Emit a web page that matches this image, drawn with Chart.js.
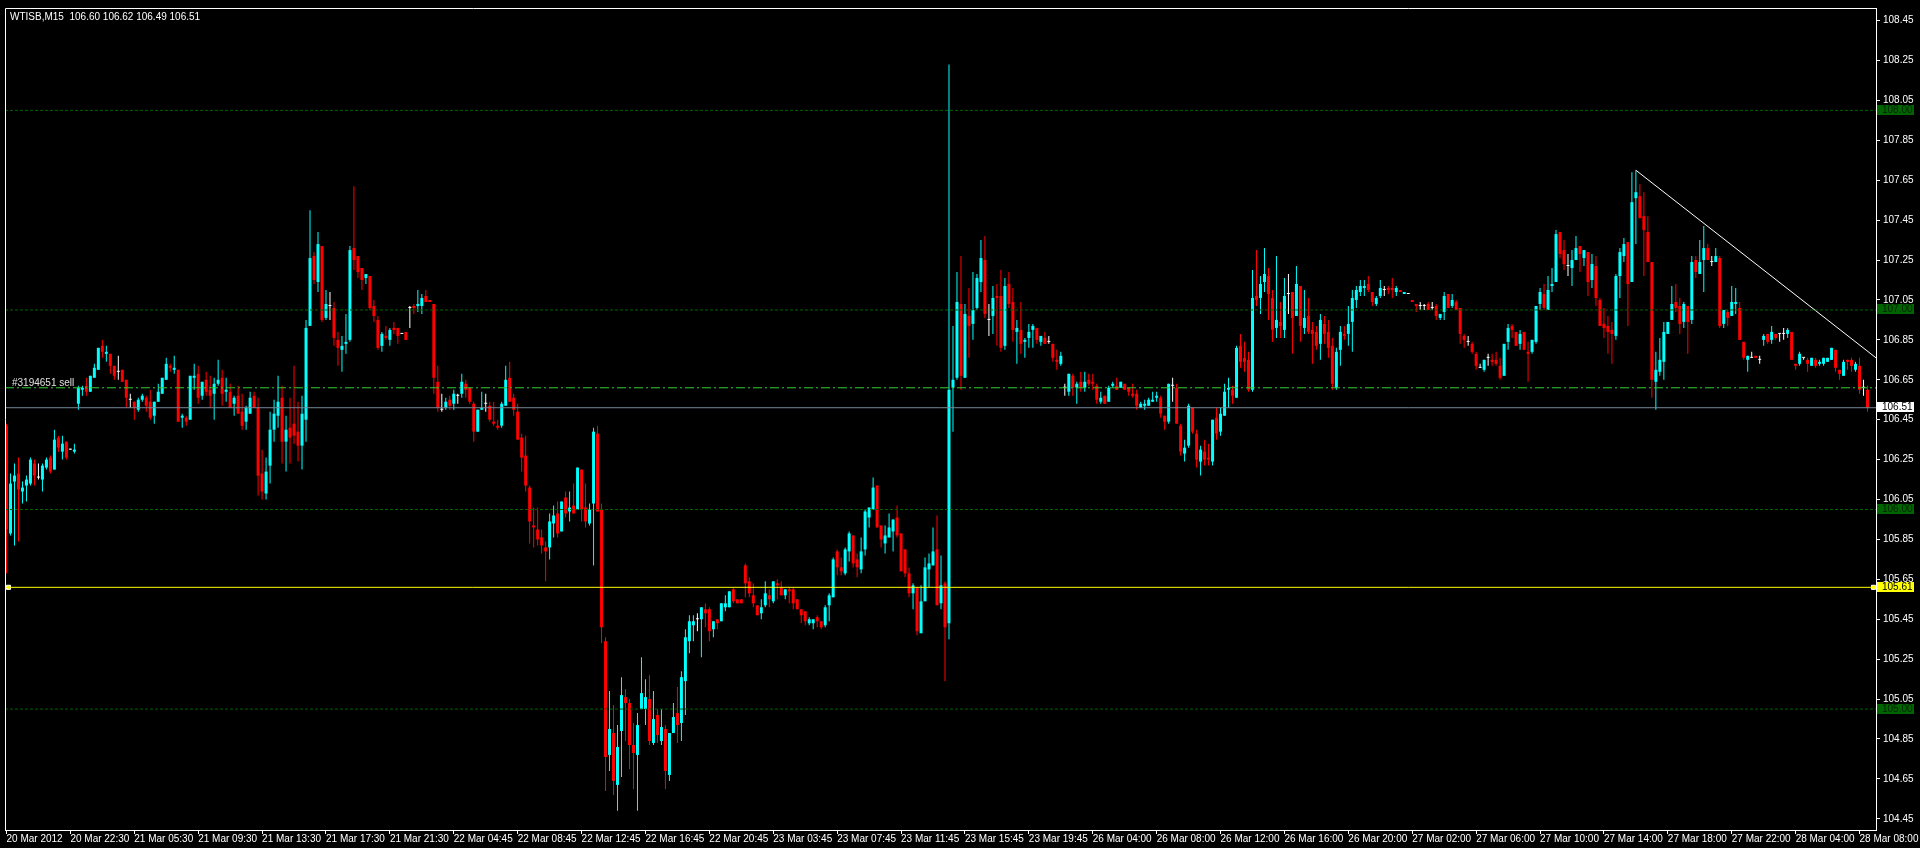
<!DOCTYPE html>
<html><head><meta charset="utf-8">
<script src="https://cdn.jsdelivr.net/npm/chart.js@4"></script>
<style>html,body{margin:0;padding:0;background:#000;overflow:hidden}canvas{display:block}</style>
</head><body>
<canvas id="c" width="1920" height="848"></canvas>
<script>
const SYMBOL = 'WTISB,M15';
const OPEN = [
106.42,105.88,106.14,106.18,106.09,106.12,106.13,106.23,106.16,106.15,
106.21,106.26,106.20,106.36,106.29,106.34,106.30,106.29,106.53,106.60,
106.62,106.59,106.66,106.70,106.82,106.78,106.78,106.72,106.69,106.70,
106.65,106.55,106.54,106.50,106.55,106.56,106.54,106.47,106.54,106.58,
106.65,106.72,106.70,106.70,106.46,106.46,106.45,106.66,106.68,106.57,
106.65,106.60,106.58,106.63,106.66,106.59,106.59,106.53,106.57,106.49,
106.44,106.48,106.57,106.51,106.18,106.08,106.22,106.40,106.47,106.56,
106.34,106.41,106.43,106.39,106.32,106.45,106.92,107.27,107.14,107.32,
106.96,107.02,107.01,106.85,106.80,106.83,106.85,107.31,107.27,107.21,
107.16,107.17,107.02,106.95,106.82,106.87,106.85,106.91,106.91,106.88,
106.89,107.01,107.02,107.02,107.02,107.07,107.05,107.03,106.64,106.50,
106.51,106.55,106.53,106.57,106.58,106.63,106.61,106.53,106.39,106.50,
106.53,106.52,106.44,106.42,106.42,106.52,106.66,106.56,106.49,106.36,
106.27,106.11,105.92,105.90,105.86,105.81,105.81,105.93,105.98,105.89,
106.06,105.99,106.02,106.00,106.20,106.01,105.93,106.03,106.38,106.00,
105.34,104.77,104.88,104.62,104.89,105.06,105.03,104.82,104.77,105.00,
105.00,105.05,104.83,104.97,104.84,104.90,104.67,104.88,104.98,104.93,
105.14,105.34,105.42,105.45,105.45,105.50,105.50,105.40,105.45,105.44,
105.51,105.51,105.60,105.55,105.55,105.72,105.64,105.57,105.52,105.48,
105.52,105.57,105.54,105.63,105.61,105.57,105.60,105.60,105.55,105.50,
105.49,105.43,105.43,105.46,105.44,105.42,105.52,105.56,105.79,105.71,
105.68,105.79,105.87,105.75,105.70,105.80,105.96,106.00,106.12,105.92,
105.83,105.86,105.89,105.96,105.88,105.80,105.68,105.58,105.61,105.38,
105.54,105.70,105.72,105.80,105.53,105.63,105.43,106.61,106.66,107.03,
106.66,106.97,106.93,107.01,107.14,107.25,106.95,106.97,107.07,107.07,
106.82,107.13,107.04,106.89,106.90,106.84,106.86,106.90,106.91,106.84,
106.86,106.84,106.83,106.75,106.73,106.61,106.59,106.67,106.61,106.64,
106.61,106.65,106.64,106.62,106.54,106.57,106.54,106.62,106.62,106.61,
106.63,106.61,106.58,106.58,106.51,106.52,106.52,106.54,106.56,106.56,
106.47,106.44,106.62,106.61,106.42,106.28,106.32,106.51,106.38,106.24,
106.29,106.26,106.24,106.46,106.39,106.47,106.60,106.60,106.56,106.82,
106.76,106.75,106.60,107.07,107.06,107.14,107.17,107.06,106.91,106.94,
106.90,107.08,107.09,106.97,107.12,106.91,106.97,106.90,106.89,106.83,
106.93,106.89,106.82,106.61,106.80,106.88,106.88,106.94,107.05,107.09,
107.11,107.13,107.09,107.03,107.07,107.10,107.11,107.11,107.09,107.10,
107.08,107.08,107.05,107.03,107.02,107.02,107.03,107.01,107.02,106.96,
106.99,107.08,107.02,107.04,107.01,106.87,106.84,106.83,106.78,106.71,
106.70,106.76,106.75,106.75,106.72,106.67,106.84,106.92,106.89,106.83,
106.89,106.79,106.79,106.84,107.03,107.08,107.00,107.12,107.14,107.39,
107.30,107.22,107.21,107.25,107.32,107.26,107.29,107.15,107.22,107.05,
106.93,106.92,106.90,106.87,107.17,107.27,107.34,107.14,107.56,107.57,
107.47,107.39,107.24,106.64,106.69,106.74,106.88,106.95,107.04,107.02,
106.94,107.02,106.95,107.25,107.18,107.25,107.31,107.24,107.24,107.26,
106.93,106.99,106.97,107.03,107.01,106.84,106.75,106.76,106.77,106.75,
106.85,106.88,106.85,106.88,106.88,106.88,106.88,106.89,106.73,106.73,
106.76,106.75,106.72,106.75,106.73,106.73,106.74,106.75,106.80,106.70,
106.67,106.75,106.75,106.70,106.72,106.61,106.60];
const HIGH = [
106.43,106.18,106.23,106.26,106.14,106.17,106.26,106.25,106.23,106.23,
106.26,106.27,106.40,106.37,106.37,106.34,106.30,106.33,106.62,106.62,
106.66,106.67,106.73,106.81,106.85,106.82,106.78,106.72,106.77,106.70,
106.65,106.58,106.54,106.56,106.58,106.57,106.60,106.54,106.63,106.66,
106.76,106.73,106.77,106.70,106.48,106.47,106.67,106.73,106.72,106.64,
106.69,106.67,106.66,106.75,106.70,106.66,106.63,106.57,106.62,106.58,
106.52,106.59,106.59,106.56,106.30,106.26,106.49,106.55,106.67,106.62,
106.47,106.56,106.72,106.54,106.57,106.95,107.50,107.29,107.39,107.32,
107.10,107.09,107.04,106.89,106.87,106.98,107.32,107.62,107.27,107.21,
107.18,107.17,107.05,106.97,106.89,106.92,106.91,106.94,106.91,106.88,
106.89,107.02,107.03,107.10,107.08,107.10,107.05,107.03,106.72,106.58,
106.56,106.57,106.60,106.58,106.68,106.65,106.61,106.54,106.50,106.59,
106.58,106.54,106.54,106.45,106.54,106.72,106.74,106.58,106.53,106.38,
106.37,106.12,106.01,106.01,105.90,105.84,105.98,106.02,106.04,106.04,
106.09,106.09,106.13,106.21,106.20,106.13,106.03,106.41,106.42,106.03,
105.36,105.09,105.02,104.92,105.16,105.10,105.05,104.93,104.98,105.26,
105.15,105.17,105.09,105.00,105.00,104.92,104.88,105.03,105.11,105.19,
105.40,105.47,105.47,105.48,105.51,105.53,105.51,105.44,105.45,105.53,
105.57,105.59,105.61,105.55,105.55,105.73,105.66,105.63,105.52,105.55,
105.64,105.60,105.64,105.65,105.64,105.60,105.61,105.61,105.55,105.50,
105.49,105.46,105.45,105.47,105.44,105.52,105.58,105.76,105.80,105.76,
105.81,105.89,105.87,105.78,105.86,106.00,106.01,106.16,106.12,105.92,
105.92,105.98,105.95,106.02,105.88,105.80,105.71,105.63,105.61,105.62,
105.76,105.78,105.91,105.97,105.77,105.64,108.23,106.92,107.19,107.27,
107.03,107.11,107.19,107.18,107.35,107.37,107.03,107.12,107.13,107.20,
107.16,107.19,107.11,106.95,107.04,106.86,106.93,106.93,106.91,106.87,
106.89,106.87,106.83,106.80,106.79,106.63,106.68,106.68,106.64,106.69,
106.69,106.68,106.68,106.63,106.59,106.57,106.62,106.64,106.66,106.64,
106.63,106.61,106.63,106.60,106.54,106.55,106.56,106.59,106.59,106.57,
106.47,106.63,106.66,106.63,106.43,106.35,106.53,106.51,106.40,106.32,
106.35,106.33,106.45,106.51,106.51,106.63,106.66,106.62,106.82,106.88,
106.84,106.79,107.20,107.30,107.17,107.31,107.21,107.10,107.27,107.04,
107.16,107.18,107.09,107.22,107.12,107.10,107.06,106.94,106.92,106.98,
106.97,106.95,106.86,106.81,106.92,106.92,107.02,107.10,107.12,107.15,
107.15,107.17,107.09,107.07,107.15,107.12,107.12,107.16,107.12,107.10,
107.09,107.08,107.05,107.03,107.04,107.03,107.04,107.04,107.03,106.98,
107.09,107.08,107.08,107.05,107.01,106.88,106.87,106.84,106.79,106.73,
106.75,106.78,106.78,106.79,106.76,106.83,106.93,106.93,106.89,106.90,
106.89,106.84,106.85,107.02,107.11,107.13,107.17,107.21,107.40,107.39,
107.35,107.28,107.30,107.37,107.32,107.30,107.29,107.28,107.27,107.06,
107.01,106.97,106.94,107.18,107.31,107.36,107.34,107.69,107.70,107.63,
107.59,107.47,107.24,106.79,106.86,106.94,106.94,107.12,107.13,107.06,
107.04,107.02,107.27,107.27,107.35,107.42,107.33,107.27,107.31,107.27,
107.00,107.00,107.12,107.11,107.04,106.84,106.77,106.79,106.77,106.77,
106.88,106.88,106.92,106.88,106.88,106.91,106.91,106.89,106.73,106.79,
106.76,106.76,106.76,106.76,106.75,106.76,106.76,106.81,106.80,106.70,
106.75,106.75,106.76,106.74,106.76,106.65,106.62];
const LOW = [
105.68,105.87,105.82,105.84,106.03,106.04,106.12,106.12,106.15,106.09,
106.20,106.18,106.20,106.29,106.25,106.25,106.30,106.28,106.50,106.57,
106.57,106.59,106.66,106.70,106.76,106.74,106.68,106.65,106.65,106.64,
106.51,106.51,106.45,106.49,106.54,106.49,106.45,106.43,106.54,106.58,
106.65,106.69,106.68,106.44,106.41,106.42,106.45,106.60,106.53,106.55,
106.57,106.51,106.45,106.62,106.52,106.54,106.51,106.47,106.48,106.40,
106.40,106.48,106.51,106.07,106.05,106.05,106.13,106.34,106.41,106.23,
106.19,106.23,106.33,106.24,106.20,106.34,106.92,107.13,107.09,106.94,
106.95,106.95,106.82,106.72,106.69,106.78,106.84,107.20,107.16,107.10,
107.13,107.00,106.94,106.80,106.79,106.85,106.82,106.88,106.83,106.88,
106.85,106.91,106.98,106.99,106.98,107.04,107.04,106.58,106.49,106.49,
106.50,106.50,106.50,106.53,106.56,106.56,106.53,106.34,106.39,106.50,
106.49,106.44,106.42,106.40,106.41,106.52,106.54,106.47,106.35,106.19,
106.09,105.83,105.81,105.82,105.78,105.64,105.75,105.86,105.86,105.89,
105.96,105.94,105.98,106.00,105.94,105.91,105.92,105.72,105.99,105.33,
104.59,104.69,104.57,104.49,104.66,104.84,104.70,104.60,104.49,105.00,
104.92,104.82,104.82,104.83,104.82,104.60,104.64,104.88,104.83,104.84,
104.97,105.28,105.34,105.39,105.26,105.41,105.34,105.36,105.40,105.44,
105.49,105.51,105.53,105.53,105.53,105.56,105.56,105.51,105.47,105.45,
105.51,105.51,105.53,105.55,105.57,105.55,105.53,105.50,105.50,105.43,
105.42,105.42,105.40,105.41,105.40,105.41,105.44,105.56,105.67,105.67,
105.67,105.74,105.71,105.66,105.68,105.77,105.91,106.00,105.91,105.81,
105.78,105.86,105.79,105.86,105.69,105.66,105.56,105.50,105.37,105.38,
105.54,105.61,105.72,105.52,105.50,105.14,105.35,106.39,106.65,106.60,
106.66,106.76,106.85,107.00,107.09,106.96,106.87,106.88,106.82,106.79,
106.80,107.01,106.84,106.73,106.78,106.76,106.81,106.81,106.83,106.82,
106.83,106.83,106.74,106.70,106.72,106.57,106.57,106.57,106.53,106.59,
106.59,106.62,106.60,106.53,106.53,106.53,106.54,106.61,106.60,106.61,
106.60,106.57,106.56,106.50,106.51,106.50,106.52,106.54,106.54,106.46,
106.40,106.43,106.54,106.43,106.27,106.24,106.31,106.38,106.21,106.17,
106.22,106.22,106.22,106.35,106.37,106.47,106.51,106.53,106.56,106.71,
106.69,106.59,106.59,107.02,106.98,107.09,106.95,106.84,106.86,106.86,
106.86,106.98,106.78,106.97,106.84,106.88,106.88,106.73,106.80,106.75,
106.83,106.76,106.60,106.60,106.72,106.85,106.82,106.79,107.01,107.07,
107.07,107.09,107.02,107.02,107.06,107.07,107.08,107.06,107.07,107.09,
107.08,107.08,107.04,106.99,107.00,107.00,107.00,107.00,106.95,106.95,
106.95,107.01,107.01,107.00,106.83,106.81,106.82,106.78,106.70,106.71,
106.69,106.72,106.72,106.72,106.65,106.67,106.80,106.86,106.82,106.80,
106.80,106.64,106.78,106.83,107.00,107.00,107.00,107.09,107.14,107.26,
107.20,107.17,107.12,107.25,107.19,107.22,107.07,107.11,107.02,106.92,
106.86,106.78,106.73,106.85,107.06,107.24,106.92,107.14,107.33,107.46,
107.17,107.24,106.56,106.50,106.67,106.65,106.88,106.95,106.99,106.88,
106.91,106.78,106.93,107.16,107.18,107.09,107.25,107.22,107.24,106.91,
106.91,106.92,106.97,106.98,106.85,106.75,106.69,106.76,106.76,106.73,
106.82,106.83,106.83,106.85,106.84,106.85,106.86,106.75,106.70,106.72,
106.75,106.69,106.72,106.71,106.72,106.72,106.74,106.75,106.69,106.65,
106.67,106.70,106.69,106.69,106.58,106.57,106.49];
const CLOSE = [
105.90,106.13,106.17,106.10,106.11,106.15,106.25,106.17,106.16,106.22,
106.25,106.19,106.35,106.31,106.33,106.26,106.30,106.30,106.61,106.61,
106.59,106.67,106.71,106.81,106.79,106.79,106.72,106.67,106.69,106.64,
106.56,106.55,106.51,106.55,106.57,106.52,106.46,106.54,106.59,106.66,
106.73,106.71,106.71,106.44,106.47,106.44,106.67,106.67,106.56,106.64,
106.59,106.57,106.63,106.65,106.58,106.60,106.51,106.56,106.48,106.42,
106.51,106.56,106.51,106.17,106.09,106.19,106.40,106.48,106.54,106.34,
106.40,106.36,106.37,106.32,106.48,106.91,107.26,107.15,107.33,106.95,
107.03,107.02,106.86,106.81,106.82,106.84,107.30,107.25,107.19,107.15,
107.18,107.01,106.97,106.81,106.88,106.86,106.90,106.90,106.87,106.88,
106.85,107.01,107.01,107.03,107.06,107.04,107.04,106.66,106.51,106.50,
106.54,106.52,106.58,106.57,106.64,106.60,106.54,106.39,106.50,106.51,
106.53,106.45,106.43,106.41,106.53,106.65,106.54,106.50,106.35,106.26,
106.12,105.94,105.91,105.85,105.82,105.79,105.94,105.97,105.88,106.04,
105.98,106.01,105.98,106.21,106.00,105.94,106.00,106.39,105.99,105.41,
104.76,104.90,104.64,104.81,105.07,105.03,104.82,104.78,104.92,105.08,
105.06,104.84,104.95,104.87,104.91,104.69,104.88,104.96,104.92,105.16,
105.36,105.44,105.44,105.45,105.51,105.48,105.39,105.44,105.43,105.53,
105.53,105.59,105.54,105.53,105.53,105.63,105.58,105.53,105.47,105.51,
105.58,105.55,105.64,105.62,105.57,105.60,105.59,105.53,105.50,105.47,
105.44,105.45,105.45,105.44,105.41,105.51,105.57,105.75,105.71,105.69,
105.80,105.88,105.73,105.71,105.79,105.99,106.01,106.11,105.91,105.85,
105.87,105.91,105.95,105.87,105.69,105.68,105.58,105.62,105.39,105.54,
105.71,105.73,105.79,105.52,105.62,105.41,106.60,106.65,107.04,106.67,
106.98,106.92,107.00,107.16,107.26,106.98,106.95,107.06,107.06,106.81,
107.12,107.03,106.90,106.91,106.83,106.85,106.89,106.92,106.85,106.87,
106.83,106.84,106.76,106.74,106.77,106.61,106.68,106.61,106.63,106.61,
106.64,106.63,106.63,106.55,106.56,106.53,106.61,106.63,106.60,106.64,
106.60,106.59,106.57,106.52,106.53,106.53,106.55,106.55,106.57,106.48,
106.44,106.63,106.62,106.43,106.29,106.31,106.52,106.39,106.25,106.30,
106.25,106.25,106.45,106.38,106.48,106.59,106.61,106.57,106.81,106.74,
106.74,106.60,107.06,107.05,107.13,107.18,107.08,106.90,106.95,106.92,
107.07,107.08,106.96,107.13,106.92,106.96,106.89,106.88,106.82,106.95,
106.88,106.81,106.63,106.79,106.89,106.87,106.93,107.06,107.10,107.12,
107.12,107.10,107.04,107.06,107.11,107.10,107.10,107.10,107.11,107.09,
107.09,107.08,107.04,107.02,107.02,107.02,107.00,107.01,106.97,106.98,
107.07,107.01,107.05,107.00,106.88,106.85,106.84,106.79,106.72,106.71,
106.75,106.76,106.74,106.73,106.66,106.83,106.91,106.90,106.82,106.88,
106.80,106.78,106.85,107.02,107.09,107.01,107.10,107.13,107.38,107.28,
107.23,107.22,107.25,107.31,107.28,107.30,107.14,107.23,107.06,106.92,
106.91,106.89,106.88,107.17,107.29,107.33,107.13,107.54,107.59,107.46,
107.40,107.24,106.65,106.70,106.75,106.89,106.94,107.03,107.01,106.93,
107.03,106.94,107.24,107.19,107.24,107.31,107.25,107.24,107.27,106.92,
107.00,106.96,107.04,107.04,106.85,106.76,106.77,106.76,106.76,106.75,
106.87,106.84,106.89,106.86,106.88,106.88,106.90,106.75,106.72,106.78,
106.76,106.73,106.76,106.72,106.74,106.76,106.76,106.81,106.71,106.68,
106.74,106.74,106.72,106.73,106.60,106.61,106.51];

const PRICE_TICKS = [108.45,108.25,108.05,107.85,107.65,107.45,107.25,107.05,106.85,106.65,106.45,106.25,106.05,105.85,105.65,105.45,105.25,105.05,104.85,104.65,104.45];
const TIME_TICK_BARS = [0,16,32,48,64,80,96,112,128,144,160,176,192,208,224,240,256,272,288,304,320,336,352,368,384,400,416,432,448,464];
const TIME_LABELS = ['20 Mar 2012','20 Mar 22:30','21 Mar 05:30','21 Mar 09:30','21 Mar 13:30','21 Mar 17:30','21 Mar 21:30','22 Mar 04:45','22 Mar 08:45','22 Mar 12:45','22 Mar 16:45','22 Mar 20:45','23 Mar 03:45','23 Mar 07:45','23 Mar 11:45','23 Mar 15:45','23 Mar 19:45','26 Mar 04:00','26 Mar 08:00','26 Mar 12:00','26 Mar 16:00','26 Mar 20:00','27 Mar 02:00','27 Mar 06:00','27 Mar 10:00','27 Mar 14:00','27 Mar 18:00','27 Mar 22:00','28 Mar 04:00','28 Mar 08:00'];
const ROUND_LEVELS = [108.00, 107.00, 106.00, 105.00];
const ORDER_PRICE = 106.61;
const ORDER_TEXT = '#3194651 sell';
const BID_PRICE = 106.51;
const YELLOW_PRICE = 105.61;
const YELLOW_ANCHOR_BARS = [0.5, 467.5];
const TREND_POINTS = [{x: 408, y: 107.70}, {x: 468.125, y: 106.76}];

const X_MIN = -0.375, X_MAX = 468.125;
const Y_MIN = 104.394, Y_MAX = 108.513;
const FONT_FAMILY = "'Liberation Sans', Arial, sans-serif";
const FONT_SIZE = 10;
const BULL = '#00ffff', BEAR = '#ff0000', DOJI = '#ffffff';

const idx = OPEN.map((_, i) => i);
const candleColor = i => CLOSE[i] > OPEN[i] ? BULL : (CLOSE[i] < OPEN[i] ? BEAR : DOJI);
const colors = idx.map(candleColor);

const hLine = (price, color, dash) => ({
  type: 'line', data: [{x: X_MIN, y: price}, {x: X_MAX, y: price}],
  borderColor: color, borderWidth: 1, borderDash: dash, pointRadius: 0, order: 0, fill: false
});

const overlay = {
  id: 'overlay',
  afterDraw(chart) {
    const {ctx, chartArea: a, scales: {y}} = chart;
    ctx.save();
    ctx.strokeStyle = '#ffffff'; ctx.lineWidth = 1;
    ctx.beginPath();
    ctx.moveTo(a.left + 0.5, a.bottom + 0.5);
    ctx.lineTo(a.left + 0.5, a.top + 0.5);
    ctx.lineTo(a.right + 0.5, a.top + 0.5);
    ctx.stroke();
    ctx.font = FONT_SIZE + 'px ' + FONT_FAMILY;
    ctx.textAlign = 'left';
    ctx.textBaseline = 'alphabetic';
    ctx.fillStyle = '#ffffff';
    const last = OPEN.length - 1;
    const hdr = SYMBOL + '  ' + [OPEN[last], HIGH[last], LOW[last], CLOSE[last]].map(v => v.toFixed(2)).join(' ');
    ctx.fillText(hdr, a.left + 5, a.top + 12);
    ctx.fillStyle = '#e0e0e0';
    ctx.fillText(ORDER_TEXT, a.left + 7, y.getPixelForValue(ORDER_PRICE) - 1.5);
    const box = (v, bg, fg) => {
      const py = y.getPixelForValue(v);
      const top = Math.round(py - 5.5);
      ctx.fillStyle = bg;
      ctx.fillRect(a.right + 1, top, 37, 10);
      ctx.fillStyle = fg;
      ctx.textBaseline = 'middle';
      ctx.fillText(v.toFixed(2), a.right + 6, top + 5.5);
    };
    ROUND_LEVELS.forEach(v => box(v, '#006400', '#002200'));
    box(YELLOW_PRICE, '#ffff00', '#000000');
    box(BID_PRICE, '#ffffff', '#000000');
    ctx.restore();
  }
};

Chart.defaults.font.family = FONT_FAMILY;
Chart.defaults.font.size = FONT_SIZE;
Chart.defaults.color = '#ffffff';

new Chart(document.getElementById('c'), {
  type: 'bar',
  data: {
    datasets: [
      {type: 'bar', label: 'wick', data: idx.map(i => ({x: i, y: [LOW[i], HIGH[i]]})),
       backgroundColor: colors, barThickness: 1, grouped: false, minBarLength: 1, inflateAmount: 0, borderWidth: 0, order: 3},
      {type: 'bar', label: 'body', data: idx.map(i => ({x: i, y: [OPEN[i], CLOSE[i]]})),
       backgroundColor: colors, barThickness: 3, grouped: false, minBarLength: 1, inflateAmount: 0, borderWidth: 0, order: 2},
      ...ROUND_LEVELS.map(v => hLine(v, '#006400', [3, 2])),
      hLine(ORDER_PRICE, '#32cd32', [9, 3, 2, 3]),
      hLine(BID_PRICE, '#778899', []),
      hLine(YELLOW_PRICE, '#ffff00', []),
      {type: 'line', data: YELLOW_ANCHOR_BARS.map(x => ({x, y: YELLOW_PRICE})), showLine: false,
       pointStyle: 'rect', pointRadius: 2.9, pointBackgroundColor: '#ffff00', pointBorderColor: '#ffffff', pointBorderWidth: 1, order: 0},
      {type: 'line', data: TREND_POINTS, borderColor: '#ffffff', borderWidth: 1, pointRadius: 0, order: 0, fill: false}
    ]
  },
  options: {
    responsive: false, animation: false, devicePixelRatio: 1, events: [],
    layout: {padding: {left: 2, top: 5, right: 0, bottom: 0}},
    plugins: {legend: {display: false}, tooltip: {enabled: false}},
    scales: {
      x: {
        type: 'linear', position: 'bottom', min: X_MIN, max: X_MAX, offset: false,
        grid: {display: true, drawOnChartArea: false, drawTicks: true, tickLength: 4, color: '#ffffff', offset: false},
        border: {display: true, color: '#ffffff', width: 1},
        ticks: {autoSkip: false, maxRotation: 0, minRotation: 0, align: 'start', padding: 0, color: '#ffffff', includeBounds: false,
                font: {size: FONT_SIZE, lineHeight: 1}, callback: (v, i) => TIME_LABELS[i]},
        afterBuildTicks: s => { s.ticks = TIME_TICK_BARS.map(v => ({value: v})); },
        afterFit: s => { s.height = 18; }
      },
      y: {
        type: 'linear', position: 'right', min: Y_MIN, max: Y_MAX,
        grid: {display: true, drawOnChartArea: false, drawTicks: true, tickLength: 4, color: '#ffffff'},
        border: {display: true, color: '#ffffff', width: 1},
        ticks: {autoSkip: false, padding: 3, color: '#ffffff', includeBounds: false,
                font: {size: FONT_SIZE, lineHeight: 1}, callback: v => v.toFixed(2)},
        afterBuildTicks: s => { s.ticks = PRICE_TICKS.map(v => ({value: v})); },
        afterFit: s => { s.width = 44; }
      }
    }
  },
  plugins: [overlay]
});
</script>
</body></html>
